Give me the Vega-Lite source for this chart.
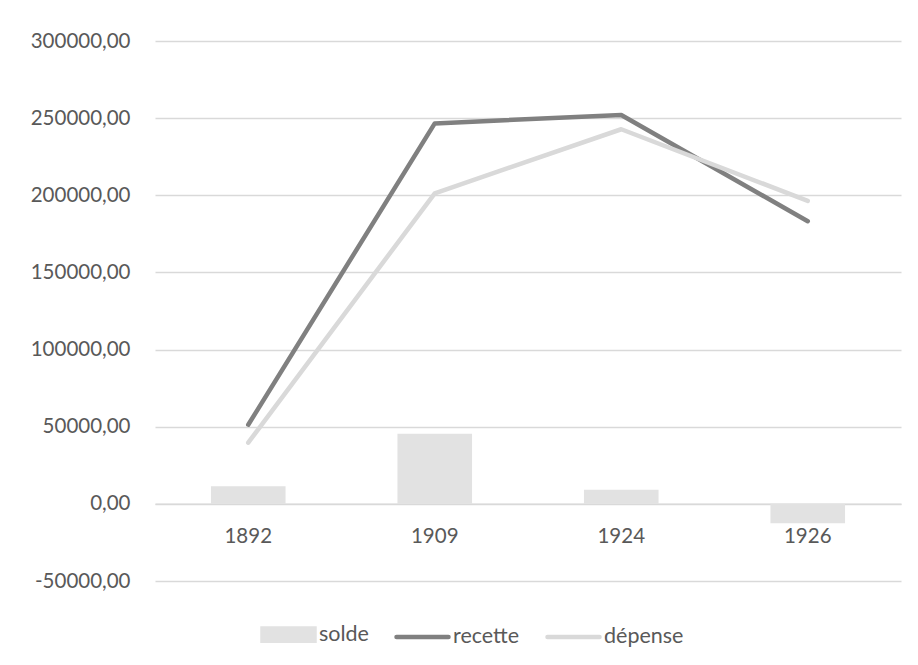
{
  "$schema": "https://vega.github.io/schema/vega-lite/v6.json",
  "width": 746,
  "height": 540,
  "padding": {"left": 30, "top": 31, "right": 10, "bottom": 10},
  "background": "white",
  "config": {
    "font": "Lato",
    "view": {"stroke": null},
    "axis": {"labelFont": "Lato", "labelFontSize": 20.5, "labelColor": "#595959", "title": null}
  },
  "data": {
    "values": [
      {"annee": "1892", "serie": "solde", "valeur": 11400},
      {"annee": "1909", "serie": "solde", "valeur": 45500},
      {"annee": "1924", "serie": "solde", "valeur": 9200},
      {"annee": "1926", "serie": "solde", "valeur": -12500},
      {"annee": "1892", "serie": "recette", "valeur": 51300},
      {"annee": "1909", "serie": "recette", "valeur": 246600},
      {"annee": "1924", "serie": "recette", "valeur": 252000},
      {"annee": "1926", "serie": "recette", "valeur": 183200},
      {"annee": "1892", "serie": "dépense", "valeur": 39700},
      {"annee": "1909", "serie": "dépense", "valeur": 201300},
      {"annee": "1924", "serie": "dépense", "valeur": 242800},
      {"annee": "1926", "serie": "dépense", "valeur": 196400}
    ]
  },
  "encoding": {
    "x": {
      "field": "annee", "type": "nominal", "title": null,
      "scale": {"paddingInner": 0.6, "paddingOuter": 0.3},
      "axis": {"labelAngle": 0, "ticks": false, "domain": true, "domainColor": "#d9d9d9", "domainWidth": 1.5, "offset": -77.14, "labelPadding": 23, "grid": false}
    },
    "y": {
      "field": "valeur", "type": "quantitative", "title": null,
      "scale": {"domain": [-50000, 300000], "nice": false, "zero": false},
      "axis": {
        "values": [-50000, 0, 50000, 100000, 150000, 200000, 250000, 300000],
        "labelExpr": "replace(replace(format(datum.value, '.2f'), '.', ','), '\u2212', '-')",
        "domain": false, "ticks": false, "grid": true, "gridColor": "#d9d9d9", "gridWidth": 1.5, "labelPadding": 25
      }
    },
    "color": {
      "field": "serie", "type": "nominal",
      "scale": {"domain": ["solde", "recette", "dépense"], "range": ["#e2e2e2", "#808080", "#d9d9d9"]},
      "legend": {
        "title": null, "orient": "none", "direction": "horizontal", "legendX": 105, "legendY": 565,
        "labelFont": "Lato", "labelFontSize": 21.5, "labelColor": "#595959",
        "labelOffset": 2, "columnPadding": 18, "symbolSize": 2704,
        "encode": {
          "symbols": {
            "update": {
              "shape": {"signal": "datum.value === 'solde' ? 'M-1,-0.24H1V0.24H-1Z' : 'stroke'"},
              "fill": {"signal": "datum.value === 'solde' ? '#e2e2e2' : 'transparent'"},
              "stroke": {"signal": "datum.value === 'solde' ? 'transparent' : (datum.value === 'recette' ? '#808080' : '#d9d9d9')"},
              "strokeWidth": {"value": 4.5},
              "strokeCap": {"value": "round"},
              "opacity": {"value": 1}
            }
          }
        }
      }
    }
  },
  "layer": [
    {"transform": [{"filter": "datum.serie === 'solde'"}], "mark": {"type": "bar"}},
    {"transform": [{"filter": "datum.serie === 'recette'"}], "mark": {"type": "line", "strokeWidth": 4.5, "strokeCap": "round", "strokeJoin": "round"}},
    {"transform": [{"filter": "datum.serie === 'dépense'"}], "mark": {"type": "line", "strokeWidth": 4.5, "strokeCap": "round", "strokeJoin": "round"}}
  ]
}
